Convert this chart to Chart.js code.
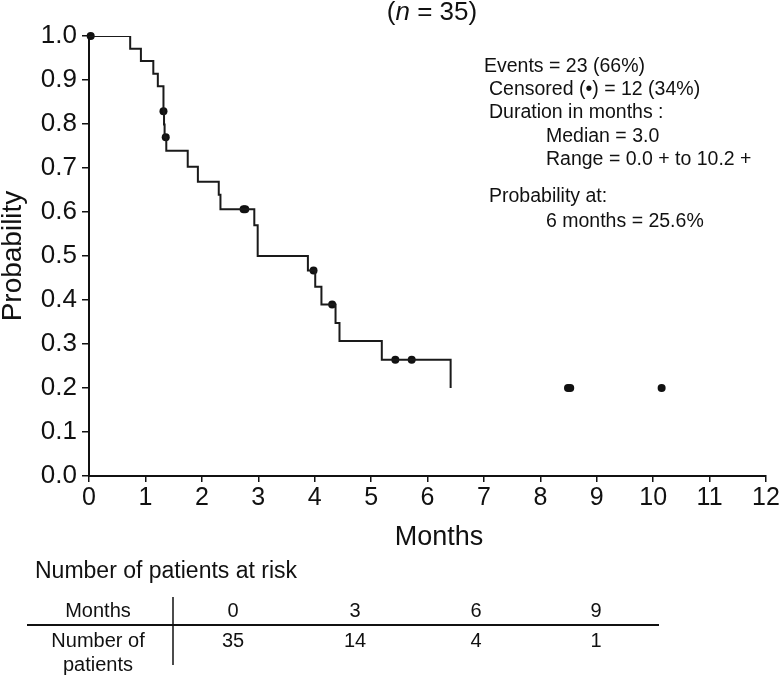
<!DOCTYPE html>
<html>
<head>
<meta charset="utf-8">
<script src="https://cdn.jsdelivr.net/npm/chart.js@4.4.1/dist/chart.umd.min.js"></script>
<style>
  html, body { margin: 0; padding: 0; background: #fff; }
  #wrap { width: 784px; height: 679px; }
</style>
</head>
<body>
<div id="wrap"><canvas id="kmChart" width="784" height="679"></canvas></div>
<script>
// Kaplan-Meier steps (time in months, survival probability)
var eventTimes = [0, 0.73, 0.92, 1.14, 1.22, 1.32, 1.32, 1.33, 1.34, 1.37, 1.75, 1.93, 2.30, 2.33, 2.93, 2.99, 3.88, 4.01, 4.12, 4.37, 4.44, 5.19, 6.41];
var survival   = [1.0, 0.971, 0.943, 0.914, 0.886, 0.857, 0.829, 0.799, 0.770, 0.739, 0.703, 0.669, 0.639, 0.606, 0.570, 0.500, 0.467, 0.430, 0.390, 0.348, 0.307, 0.264, 0.200];

// censored observations
var censorTimes = [0.03, 1.32, 1.36, 2.74, 2.77, 3.98, 4.31, 5.43, 5.72, 8.49, 8.53, 10.15];
var censorProb  = [1.0, 0.829, 0.770, 0.606, 0.606, 0.467, 0.390, 0.264, 0.264, 0.200, 0.200, 0.200];

// number at risk table
var riskMonths = [0, 3, 6, 9];
var riskCounts = [35, 14, 4, 1];

var statLines = [
  ["Events = 23 (66%)", 0],
  ["Censored (\u2022) = 12 (34%)", 1],
  ["Duration in months :", 1],
  ["Median = 3.0", 2],
  ["Range = 0.0 + to 10.2 +", 2],
  ["Probability at:", 1],
  ["6 months = 25.6%", 2]
];

var FONT = "'Liberation Sans', Arial, Helvetica, sans-serif";
var INK = "#111";

var curve = eventTimes.map(function (t, i) { return { x: t, y: survival[i] }; });
var censored = censorTimes.map(function (t, i) { return { x: t, y: censorProb[i] }; });

// extra text: title, axis titles, stats box and risk table
var extras = {
  id: "extras",
  afterDraw: function (chart) {
    var ctx = chart.ctx;
    ctx.save();
    ctx.fillStyle = INK;
    ctx.textBaseline = "middle";

    // (n = 35) with italic n
    ctx.font = "26px " + FONT;
    var p1 = "(", p3 = " = 35)";
    var w1 = ctx.measureText(p1).width, w3 = ctx.measureText(p3).width;
    ctx.font = "italic 26px " + FONT;
    var w2 = ctx.measureText("n").width;
    var x0 = 432 - (w1 + w2 + w3) / 2;
    ctx.textAlign = "left";
    ctx.font = "26px " + FONT;
    ctx.fillText(p1, x0, 13);
    ctx.font = "italic 26px " + FONT;
    ctx.fillText("n", x0 + w1, 13);
    ctx.font = "26px " + FONT;
    ctx.fillText(p3, x0 + w1 + w2, 13);

    // y title
    ctx.save();
    ctx.translate(13, 256);
    ctx.rotate(-Math.PI / 2);
    ctx.textAlign = "center";
    ctx.font = "28px " + FONT;
    ctx.fillText("Probability", 0, 0);
    ctx.restore();

    // x title
    ctx.textAlign = "center";
    ctx.font = "27px " + FONT;
    ctx.fillText("Months", 439, 538);

    // stats
    ctx.textAlign = "left";
    ctx.font = "19.5px " + FONT;
    var indent = [484, 489, 546];
    var ys = [67, 90, 113, 137, 160, 197, 222];
    statLines.forEach(function (l, i) {
      ctx.fillText(l[0], indent[l[1]], ys[i]);
    });

    // risk table
    ctx.font = "23px " + FONT;
    ctx.fillText("Number of patients at risk", 35, 572);

    ctx.font = "20px " + FONT;
    ctx.textAlign = "center";
    ctx.fillText("Months", 98, 611);
    ctx.fillText("Number of", 98, 641);
    ctx.fillText("patients", 98, 665);
    var cols = [233, 355, 476, 596];
    riskMonths.forEach(function (m, i) {
      ctx.fillText(String(m), cols[i], 611);
      ctx.fillText(String(riskCounts[i]), cols[i], 641);
    });

    ctx.strokeStyle = INK;
    ctx.lineWidth = 2;
    ctx.beginPath();
    ctx.moveTo(27, 625);
    ctx.lineTo(659, 625);
    ctx.stroke();
    ctx.lineWidth = 1.5;
    ctx.beginPath();
    ctx.moveTo(173, 597);
    ctx.lineTo(173, 665);
    ctx.stroke();

    ctx.restore();
  }
};

new Chart(document.getElementById("kmChart"), {
  type: "scatter",
  data: {
    datasets: [
      {
        data: curve,
        showLine: true,
        stepped: "before",
        borderColor: "#1a1a1a",
        borderWidth: 2,
        pointRadius: 0,
        fill: false
      },
      {
        data: censored,
        showLine: false,
        clip: false,
        pointRadius: 4,
        pointBackgroundColor: "#111",
        pointBorderColor: "#111",
        pointBorderWidth: 0
      }
    ]
  },
  options: {
    responsive: false,
    devicePixelRatio: 1,
    animation: false,
    layout: { padding: { top: 36, right: 18, left: 0, bottom: 0 } },
    plugins: {
      legend: { display: false },
      tooltip: { enabled: false }
    },
    scales: {
      x: {
        type: "linear",
        min: 0,
        max: 12,
        afterFit: function (s) { s.height = 203; },
        border: { display: true, color: INK, width: 2 },
        grid: { drawOnChartArea: false, drawTicks: true, tickLength: 6, color: INK, lineWidth: 1.5 },
        ticks: { stepSize: 1, color: INK, padding: 1, font: { family: FONT, size: 25 } }
      },
      y: {
        min: 0,
        max: 1,
        afterFit: function (s) { s.width = 89; },
        border: { display: true, color: INK, width: 2 },
        grid: { drawOnChartArea: false, drawTicks: true, tickLength: 7, color: INK, lineWidth: 1.5 },
        ticks: {
          stepSize: 0.1,
          color: INK,
          padding: 5,
          font: { family: FONT, size: 26 },
          callback: function (v) { return v.toFixed(1); }
        }
      }
    }
  },
  plugins: [extras]
});
</script>
</body>
</html>
